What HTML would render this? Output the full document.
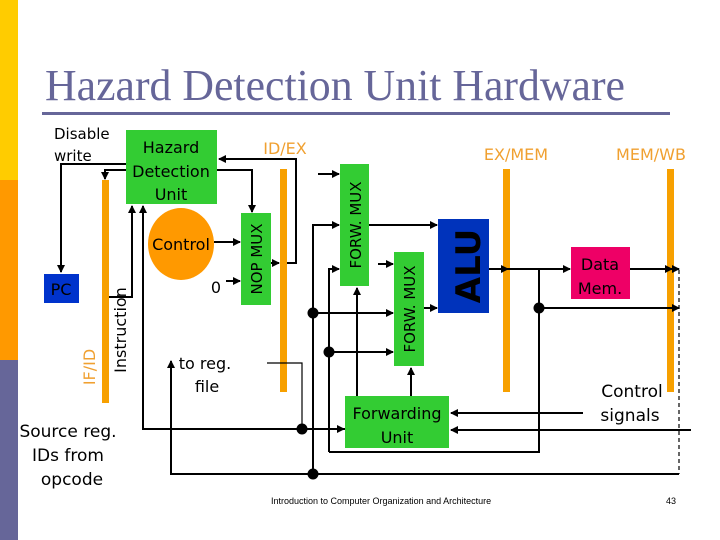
<!DOCTYPE html>
<html><head><meta charset="utf-8"><style>
html,body{margin:0;padding:0;background:#fff;}
svg{display:block;}
text{font-family:"DejaVu Sans","Liberation Sans",sans-serif;}
</style></head><body>
<svg width="720" height="540" viewBox="0 0 720 540" xmlns="http://www.w3.org/2000/svg">
<defs>
<marker id="a" markerWidth="8" markerHeight="8" refX="7" refY="4" orient="auto" markerUnits="userSpaceOnUse">
<path d="M0,0 L8,4 L0,8 z" fill="#000"/></marker>
</defs>
<rect x="0" y="0" width="18" height="180" fill="#ffcc00"/>
<rect x="0" y="180" width="18" height="180" fill="#ff9900"/>
<rect x="0" y="360" width="18" height="180" fill="#666699"/>
<text x="45" y="100" font-family="Liberation Serif" style="font-family:'Liberation Serif',serif" font-size="44" fill="#666699" textLength="580" lengthAdjust="spacingAndGlyphs">Hazard Detection Unit Hardware</text>
<rect x="42" y="112" width="628" height="3" fill="#666699"/>

<rect x="102" y="180" width="7" height="223" fill="#f7a000"/>
<rect x="280" y="169" width="7" height="223" fill="#f7a000"/>
<rect x="503" y="169" width="7" height="223" fill="#f7a000"/>
<rect x="667" y="169" width="7" height="223" fill="#f7a000"/>
<text x="285" y="154" font-size="16" fill="#f0a030" text-anchor="middle">ID/EX</text>
<text x="516" y="160" font-size="16" fill="#f0a030" text-anchor="middle">EX/MEM</text>
<text x="651" y="160" font-size="16" fill="#f0a030" text-anchor="middle">MEM/WB</text>

<g stroke="#000" stroke-width="2" fill="none">
<polyline points="126,164 61,164 61,272" marker-end="url(#a)"/>
<polyline points="126,170 105,170 105,179" marker-end="url(#a)"/>
<polyline points="109,297 132,297 132,206" marker-end="url(#a)"/>
<polyline points="217,170 252,170 252,212" marker-end="url(#a)"/>
<polyline points="287,263 296,263 296,159 219,159" marker-end="url(#a)"/>
<line x1="214" y1="242" x2="240" y2="242" marker-end="url(#a)"/>
<line x1="226" y1="281" x2="240" y2="281" marker-end="url(#a)"/>
<line x1="271" y1="263" x2="279" y2="263" marker-end="url(#a)"/>
<polyline points="345,429 143,429 143,206" marker-end="url(#a)"/>
<line x1="300" y1="429" x2="344" y2="429" marker-end="url(#a)"/>
<polyline points="313,474 171,474 171,361" marker-end="url(#a)"/>
<line x1="318" y1="174" x2="339" y2="174" marker-end="url(#a)"/>
<polyline points="313,474 313,225 339,225" marker-end="url(#a)"/>
<polyline points="329,452 329,269 339,269" marker-end="url(#a)"/>
<line x1="369" y1="225" x2="437" y2="225" marker-end="url(#a)"/>
<line x1="378" y1="264" x2="393" y2="264" marker-end="url(#a)"/>
<line x1="313" y1="313" x2="393" y2="313" marker-end="url(#a)"/>
<line x1="329" y1="352" x2="393" y2="352" marker-end="url(#a)"/>
<line x1="424" y1="308" x2="437" y2="308" marker-end="url(#a)"/>
<line x1="357" y1="396" x2="357" y2="288" marker-end="url(#a)"/>
<line x1="411" y1="396" x2="411" y2="368" marker-end="url(#a)"/>
<line x1="583" y1="413" x2="451" y2="413" marker-end="url(#a)"/>
<line x1="691" y1="430" x2="451" y2="430" marker-end="url(#a)"/>
<line x1="489" y1="269" x2="508" y2="269" marker-end="url(#a)"/>
<line x1="505" y1="269" x2="570" y2="269" marker-end="url(#a)"/>
<polyline points="329,452 539,452 539,269"/>
<line x1="539" y1="308" x2="679" y2="308" marker-end="url(#a)"/>
<line x1="630" y1="269" x2="672" y2="269" marker-end="url(#a)"/>
<line x1="670" y1="269" x2="679" y2="269" marker-end="url(#a)"/>
<line x1="313" y1="474" x2="679" y2="474"/>
</g>
<polyline points="267,363 302,363 302,429" stroke="#000" stroke-width="1.2" fill="none"/>
<line x1="679" y1="270" x2="679" y2="474" stroke="#000" stroke-width="1.2" stroke-dasharray="4,3"/>
<g fill="#000">
<circle cx="313" cy="313" r="5.5"/><circle cx="329" cy="352" r="5.5"/>
<circle cx="313" cy="474" r="5.5"/><circle cx="539" cy="308" r="5.5"/>
<circle cx="302" cy="429" r="5.5"/>
</g>

<rect x="126" y="130" width="91" height="74" fill="#33cc33"/>
<text font-size="16" text-anchor="middle" fill="#000"><tspan x="171" y="153">Hazard</tspan><tspan x="171" y="177">Detection</tspan><tspan x="171" y="200">Unit</tspan></text>
<rect x="44" y="274" width="35" height="29" fill="#0033cc"/>
<text x="61" y="295" font-size="16" text-anchor="middle" fill="#000">PC</text>
<ellipse cx="181" cy="244" rx="33" ry="36" fill="#ff9900"/>
<text x="181" y="250" font-size="16" text-anchor="middle">Control</text>
<text x="216" y="293" font-size="16" text-anchor="middle">0</text>
<rect x="241" y="213" width="30" height="92" fill="#33cc33"/>
<text transform="translate(262,259) rotate(-90)" font-size="15" text-anchor="middle">NOP MUX</text>
<rect x="340" y="164" width="29" height="122" fill="#33cc33"/>
<text transform="translate(361,225) rotate(-90)" font-size="15" text-anchor="middle">FORW. MUX</text>
<rect x="394" y="252" width="30" height="114" fill="#33cc33"/>
<text transform="translate(415,309) rotate(-90)" font-size="15" text-anchor="middle">FORW. MUX</text>
<rect x="438" y="219" width="51" height="94" fill="#0033bb"/>
<text transform="translate(480,266) rotate(-90)" font-size="34" font-weight="bold" text-anchor="middle">ALU</text>
<rect x="571" y="247" width="59" height="52" fill="#ee0066"/>
<text font-size="16" text-anchor="middle"><tspan x="600" y="270">Data</tspan><tspan x="600" y="294">Mem.</tspan></text>
<rect x="345" y="396" width="104" height="52" fill="#33cc33"/>
<text font-size="16" text-anchor="middle"><tspan x="397" y="419">Forwarding</tspan><tspan x="397" y="443">Unit</tspan></text>

<text font-size="15"><tspan x="54" y="139">Disable</tspan><tspan x="54" y="161">write</tspan></text>
<text transform="translate(95,367) rotate(-90)" font-size="16" fill="#f0a030" text-anchor="middle">IF/ID</text>
<text transform="translate(126,330) rotate(-90)" font-size="16" text-anchor="middle">Instruction</text>
<text font-size="16" text-anchor="middle"><tspan x="205" y="369">to reg.</tspan><tspan x="207" y="392">file</tspan></text>
<text font-size="17" text-anchor="middle"><tspan x="68" y="437">Source reg.</tspan><tspan x="68" y="461">IDs from</tspan><tspan x="72" y="485">opcode</tspan></text>
<text font-size="17" text-anchor="middle"><tspan x="632" y="397">Control</tspan><tspan x="630" y="421">signals</tspan></text>
<text x="271" y="504" font-size="9" style="font-family:'Liberation Sans',sans-serif">Introduction to Computer Organization and Architecture</text>
<text x="666" y="504" font-size="9" style="font-family:'Liberation Sans',sans-serif">43</text>
</svg>
</body></html>
